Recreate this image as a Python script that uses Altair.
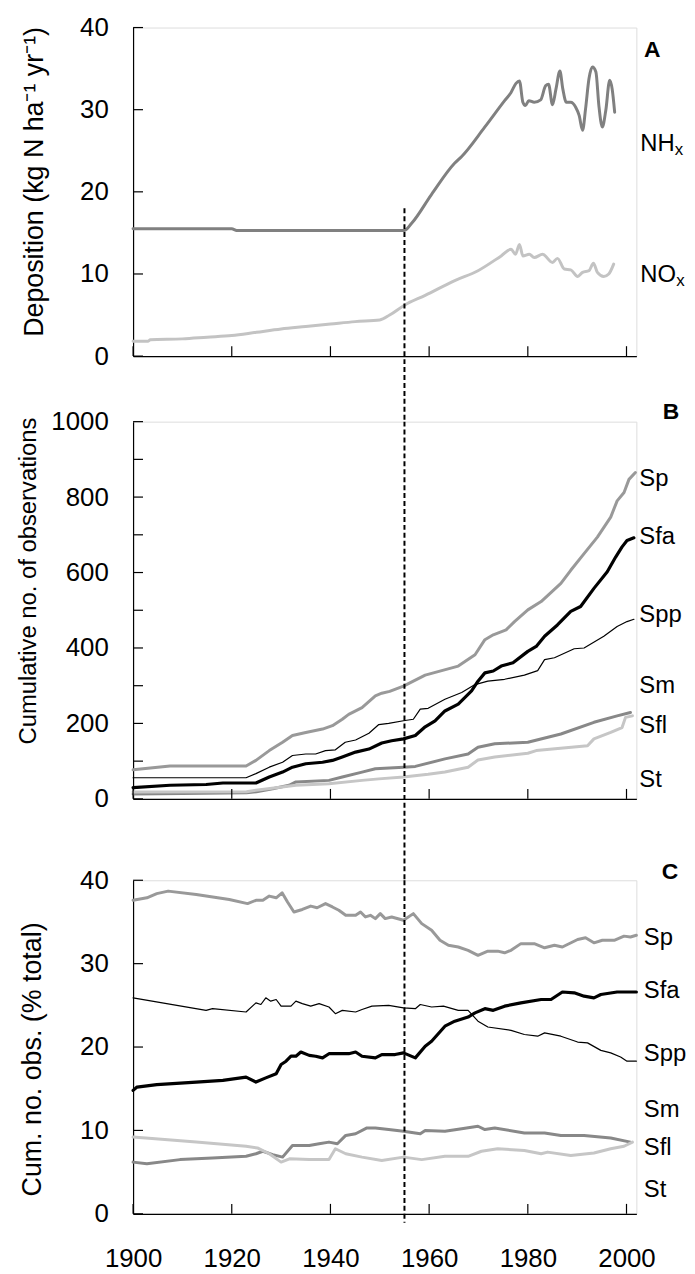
import altair as alt
import pandas as pd

FONT = "Liberation Sans"
X_DOMAIN = [1900, 2002]
X_TICKS = [1900, 1920, 1940, 1960, 1980, 2000]
THRESHOLD_YEAR = [1955]

# ---------------- Panel A: deposition (kg N / ha / yr) ----------------
nhx_year = [1900, 1920, 1921, 1955, 1956.5, 1960.5, 1965.2, 1966.6, 1971.3, 1975.3, 1976.6,
            1977.6, 1978.3, 1979.0, 1979.5, 1980.2, 1981.3, 1982.6, 1983.6, 1984.2, 1985.0,
            1985.7, 1986.5, 1987.1, 1987.8, 1988.7, 1989.7, 1990.4, 1991.1, 1991.7, 1992.4,
            1993.1, 1993.8, 1994.4, 1995.1, 1995.8, 1996.6, 1997.1, 1997.6]
nhx_val = [15.5, 15.5, 15.3, 15.3, 16.2, 19.7, 23.5, 24.3, 27.9, 31.1, 32.1,
           33.2, 33.5, 30.9, 30.5, 31.1, 30.9, 31.2, 32.9, 33.1, 30.6,
           32.5, 34.7, 32.5, 30.9, 30.9, 30.3, 29.3, 27.5, 30.1, 33.8,
           35.2, 34.6, 30.5, 27.9, 29.9, 33.6, 32.5, 29.7]
nox_year = [1900, 1903, 1903.5, 1910, 1915, 1920, 1925, 1930, 1935, 1940, 1945, 1950, 1952,
            1955, 1959.2, 1965.2, 1969.9, 1974.6, 1976.6, 1977.5, 1978.3, 1979.0, 1980.3,
            1981.3, 1983.0, 1985.0, 1986.0, 1987.4, 1988.7, 1990.1, 1991.1, 1992.4, 1993.3,
            1994.1, 1995.4, 1996.4, 1997.4]
nox_val = [1.8, 1.8, 2.0, 2.1, 2.3, 2.5, 2.9, 3.3, 3.6, 3.9, 4.2, 4.4, 5.0,
           6.2, 7.4, 9.2, 10.4, 12.2, 13.0, 12.4, 13.6, 12.2, 12.4,
           12.0, 12.4, 11.4, 11.9, 10.6, 10.5, 9.7, 10.2, 10.4, 11.3,
           10.2, 9.7, 10.0, 11.2]

# ---------------- Panel B: cumulative no. of observations ----------------
b_sp_year = [1900, 1907.5, 1922.9, 1924.9, 1927.6, 1930.3, 1932.3, 1935, 1938.4, 1940.4, 1942.4,
             1943.7, 1946.4, 1949.1, 1950.4, 1952, 1954.8, 1959.2, 1965.9, 1969.3, 1971.3, 1973,
             1975.6, 1977.3, 1980, 1982.7, 1986.7, 1988.7, 1991.4, 1994.1, 1996.8, 1998.1,
             1999.5, 2000.5, 2001.8]
b_sp_val = [77, 87, 87, 102, 128, 150, 168, 176, 185, 194, 211,
            224, 242, 273, 280, 285, 299, 328, 352, 382, 422, 435,
            448, 470, 501, 523, 571, 606, 650, 694, 747, 790,
            812, 847, 865]
b_sfa_year = [1900, 1907.5, 1914.8, 1918.2, 1924.9, 1927.6, 1930.3, 1932.3, 1935, 1938.4, 1940.4,
              1942.4, 1945.1, 1947.8, 1950.4, 1952.4, 1954.8, 1957.2, 1959.2, 1961.2, 1963.2,
              1965.9, 1968.6, 1969.9, 1971.3, 1973, 1974.6, 1977, 1980, 1981.7, 1983.4, 1986,
              1988.7, 1990.7, 1993.4, 1996.1, 1997.8, 1999.1, 2000.1, 2001.5]
b_sfa_val = [30, 36, 38, 42, 42, 58, 71, 84, 93, 97, 102,
             111, 124, 132, 148, 154, 159, 168, 191, 207, 233,
             251, 286, 312, 334, 339, 352, 361, 391, 404, 431, 461,
             497, 510, 558, 602, 641, 668, 685, 692]
b_spp_year = [1900, 1922.9, 1924.9, 1927.6, 1930.3, 1932.3, 1935, 1937, 1939, 1941, 1943, 1945.1,
              1947.8, 1949.8, 1951.8, 1954.8, 1956.8, 1958.2, 1959.8, 1963.2, 1966.6, 1969.3,
              1971.9, 1975.3, 1979.3, 1982, 1983.4, 1985.4, 1989.4, 1991.4, 1995.4, 1998.1,
              2000.1, 2001.5]
b_spp_val = [56, 56, 67, 84, 97, 115, 119, 119, 128, 130, 150, 156,
             174, 197, 200, 207, 211, 238, 240, 264, 282, 303,
             312, 317, 328, 340, 369, 374, 398, 400, 431, 457,
             470, 476]
b_sfl_year = [1900, 1910, 1923, 1925, 1928.3, 1931.6, 1933, 1939.7, 1942.4, 1946.4, 1949.1, 1954.8,
              1957.2, 1963.2, 1967.9, 1969.9, 1973.3, 1980, 1986.7, 1993.4, 1998.1, 2000.8]
b_sfl_val = [13, 14, 16, 19, 27, 36, 45, 49, 58, 71, 80, 84,
             86, 106, 119, 137, 146, 150, 172, 203, 220, 229]
b_st_year = [1900, 1923, 1924.9, 1933, 1939.7, 1946.4, 1949.8, 1954.8, 1959.8, 1963.2, 1967.9,
             1969.9, 1973.3, 1980, 1981.7, 1992.1, 1993.4, 1996.8, 1999.1, 1999.8, 2001.2]
b_st_val = [18, 19, 23, 36, 40, 49, 53, 58, 65, 71, 84,
            103, 111, 121, 128, 141, 159, 176, 189, 216, 220]

# ---------------- Panel C: cumulative no. of observations (% total) ----------------
c_sp_year = [1900, 1902.8, 1904.8, 1907.1, 1912.8, 1919.5, 1923.2, 1924.9, 1926.3, 1927.6, 1929,
             1930.2, 1931.3, 1932.6, 1934.3, 1936, 1937.3, 1939, 1940.4, 1941.7, 1943.1, 1945.1,
             1946.1, 1947.1, 1948.1, 1949.1, 1950.1, 1951.1, 1952.4, 1954.8, 1956.8, 1958.5,
             1960.5, 1962.2, 1963.9, 1965.9, 1967.9, 1969.9, 1971.9, 1973.9, 1975.3, 1976.6,
             1978.6, 1981.3, 1983.4, 1985.4, 1987, 1990.1, 1991.7, 1993.4, 1995.1, 1997.5,
             1999.5, 2000.8, 2002]
c_sp_val = [37.6, 37.9, 38.4, 38.7, 38.3, 37.7, 37.2, 37.6, 37.6, 38.1, 37.9,
            38.5, 37.4, 36.2, 36.5, 36.9, 36.7, 37.2, 36.8, 36.4, 35.8, 35.8,
            36.2, 35.6, 35.8, 35.4, 36.0, 35.4, 35.6, 35.2, 36.0, 34.8,
            34.0, 32.8, 32.2, 32.0, 31.6, 31.0, 31.5, 31.5, 31.3, 31.6,
            32.4, 32.4, 31.9, 32.2, 32.0, 32.9, 33.1, 32.5, 32.8, 32.8,
            33.3, 33.2, 33.4]
c_sfa_year = [1900, 1900.8, 1904.8, 1912.8, 1918.2, 1922.9, 1924.9, 1926.9, 1929, 1930, 1931,
              1932, 1933, 1934, 1935.7, 1937, 1938.4, 1939.7, 1943.7, 1945.1, 1946.4, 1949.1,
              1950.4, 1953.1, 1954.8, 1957.2, 1959.2, 1960.5, 1963.2, 1965.2, 1967.9, 1969.3,
              1971.3, 1973, 1975.3, 1978.6, 1982.7, 1984.7, 1987, 1989.4, 1991.4, 1993.4,
              1994.8, 1998.1, 2002]
c_sfa_val = [14.8, 15.2, 15.5, 15.8, 16.0, 16.4, 15.8, 16.3, 16.8, 17.9, 18.3,
             18.9, 18.9, 19.4, 19.0, 18.9, 18.7, 19.2, 19.2, 19.4, 18.9, 18.7,
             19.1, 19.1, 19.3, 18.7, 20.1, 20.7, 22.5, 23.1, 23.6, 24.1,
             24.6, 24.4, 24.9, 25.3, 25.7, 25.7, 26.6, 26.5, 26.1, 25.9,
             26.3, 26.6, 26.6]
c_spp_year = [1900, 1914.8, 1916.1, 1922.9, 1924.9, 1925.9, 1926.9, 1927.9, 1929, 1930, 1932,
              1933, 1934.3, 1936, 1937.7, 1939.7, 1941, 1942.4, 1945.1, 1946.4, 1948.4, 1951.8,
              1954.8, 1957.2, 1958.2, 1960.5, 1962.9, 1965.9, 1967.9, 1969.9, 1971.9, 1976.6,
              1979.3, 1982, 1983.4, 1986.7, 1990.1, 1992.1, 1994.8, 1996.8, 1998.8, 2000.1, 2002]
c_spp_val = [25.9, 24.4, 24.6, 24.2, 25.3, 25.1, 25.9, 25.5, 25.7, 24.9, 24.9,
             25.5, 25.2, 24.9, 25.2, 24.8, 24.0, 24.4, 24.2, 24.5, 24.9, 25.0,
             24.7, 24.6, 25.1, 24.8, 24.9, 24.4, 24.4, 23.1, 22.4, 22.0,
             21.5, 21.3, 21.7, 21.3, 20.6, 20.5, 19.6, 19.3, 18.8, 18.3, 18.3]
c_sfl_year = [1900, 1902.8, 1909.5, 1916.1, 1922.9, 1924.9, 1926.3, 1928.3, 1930.3, 1932.3, 1935.7,
              1937.7, 1939.7, 1941.4, 1943.1, 1945.1, 1947.4, 1949.1, 1951.8, 1954.8, 1958.2,
              1959.2, 1963.2, 1966.6, 1969.9, 1971.3, 1973.3, 1979.3, 1983.4, 1986.7, 1991.4,
              1996.8, 2000.8]
c_sfl_val = [6.2, 6.0, 6.5, 6.7, 6.9, 7.2, 7.5, 7.1, 6.8, 8.2, 8.2,
             8.4, 8.6, 8.4, 9.4, 9.6, 10.3, 10.3, 10.1, 9.9, 9.6,
             10.0, 9.9, 10.2, 10.5, 10.1, 10.3, 9.7, 9.7, 9.4, 9.4,
             9.1, 8.6]
c_st_year = [1900, 1912.8, 1922.9, 1925.2, 1927.6, 1930, 1931.7, 1935.7, 1939.7, 1941, 1943.1,
             1946.4, 1950.4, 1954.8, 1958.5, 1963.2, 1967.9, 1970.6, 1973.9, 1979.3, 1982.7,
             1984, 1988.7, 1993.4, 1996.8, 1999.5, 2001.2]
c_st_val = [9.2, 8.6, 8.1, 7.9, 7.2, 6.2, 6.6, 6.5, 6.5, 7.8, 7.2,
            6.8, 6.4, 6.8, 6.5, 6.9, 6.9, 7.5, 7.8, 7.6, 7.2,
            7.4, 7.0, 7.3, 7.8, 8.1, 8.6]

# ---------------- labels ----------------
a_label_text = ["NH", "NO"]
a_label_x = [2002.8, 2002.8]
a_label_y = [25.8, 9.9]
a_sub_text = ["x", "x"]
a_sub_x = [2009.8, 2010.1]
a_sub_y = [25.1, 9.2]

species = ["Sp", "Sfa", "Spp", "Sm", "Sfl", "St"]
b_label_x = [2002.6] * 6
b_label_y = [847, 694, 488, 299, 194, 49]
c_label_x = [2003.5] * 6
c_label_y = [33.1, 26.7, 19.2, 12.4, 7.9, 2.9]

panel_letters = ["A", "B", "C"]
letter_x = [2005.2, 2009.0, 2008.8]
letter_y = [37.2, 1026, 41.0]

# ---------------- styling ----------------
W = 507
HA, HB, HC = 331, 380, 336
GAP_AB, GAP_BC = 66, 82

ALL_NAMES = ["NHx", "NOx", "Sp", "Sfa", "Spp", "Sfl", "St"]
ALL_COLORS = ["#808080", "#c3c3c3", "#999999", "#000000", "#000000", "#888888", "#c6c6c6"]
ALL_WIDTHS = [3, 3, 3, 3.2, 1.2, 3, 3]
species_lines = ["Sp", "Sfa", "Spp", "Sfl", "St"]


def long_df(names, years, values):
    rows = []
    for n, ys, vs in zip(names, years, values):
        for yr, v in zip(ys, vs):
            rows.append({"series": n, "year": yr, "value": v})
    return pd.DataFrame(rows)


def make_panel(df, ydom, ylab_vals, ytick_vals, title, title_size,
               title_x, title_y, h, rule_y, rule_y2, labels_df, letter_idx, show_x_labels,
               interp, subs_df=None):
    xs = alt.Scale(domain=X_DOMAIN, nice=False, zero=False)
    ys = alt.Scale(domain=ydom, nice=False, zero=False)
    xaxis = alt.Axis(values=X_TICKS, ticks=False, labels=show_x_labels, grid=False,
                     domainColor="black", domainWidth=1.2, labelFontSize=26,
                     labelPadding=32, labelColor="black", labelFont=FONT,
                     labelFlush=False, format="d", title=None)
    yaxis = alt.Axis(values=ylab_vals, ticks=False, grid=False, domainColor="black",
                     domainWidth=1.2, labelFontSize=26, labelPadding=25, format="d",
                     labelColor="black", labelFont=FONT, title=title,
                     titleFontSize=title_size, titleFontWeight="normal", titleFont=FONT,
                     titleColor="black", titleX=title_x, titleY=title_y,
                     titleBaseline="middle", titleAngle=270, titleAlign="center")
    X = lambda f: alt.X(f, scale=xs, axis=xaxis)
    Y = lambda f: alt.Y(f, scale=ys, axis=yaxis)

    lines = alt.Chart(df).mark_line(interpolate=interp, strokeCap="round",
                                    strokeJoin="round").encode(
        x=X("year:Q"), y=Y("value:Q"),
        color=alt.Color("series:N", scale=alt.Scale(domain=ALL_NAMES, range=ALL_COLORS),
                        legend=None),
        strokeWidth=alt.StrokeWidth("series:N",
                                    scale=alt.Scale(type="ordinal", domain=ALL_NAMES,
                                                    range=ALL_WIDTHS),
                                    legend=None),
    )
    rule_enc = dict(x=X("year:Q"), y2=alt.value(rule_y2))
    if rule_y is None:
        rule_enc["y"] = alt.value(0)
    else:
        rule_enc["y"] = alt.datum(rule_y)
    rule = alt.Chart(pd.DataFrame({"year": THRESHOLD_YEAR})).mark_rule(
        color="black", strokeWidth=2, strokeDash=[5, 3]).encode(**rule_enc)
    xt = alt.Chart(pd.DataFrame({"year": X_TICKS})).mark_rule(
        color="black", strokeWidth=1.2).encode(x=X("year:Q"), y=alt.value(h - 10),
                                               y2=alt.value(h))
    yt = alt.Chart(pd.DataFrame({"v": ytick_vals})).mark_rule(
        color="black", strokeWidth=1.2).encode(y=Y("v:Q"), x=alt.value(0), x2=alt.value(10))
    lab = alt.Chart(labels_df).mark_text(align="left", baseline="middle", fontSize=24,
                                         font=FONT, color="black").encode(
        x=X("lx:Q"), y=Y("ly:Q"), text="t:N")
    let = alt.Chart(pd.DataFrame({"t": [panel_letters[letter_idx]],
                                  "lx": [letter_x[letter_idx]],
                                  "ly": [letter_y[letter_idx]]})).mark_text(
        align="center", baseline="middle", fontSize=23, fontWeight="bold", font=FONT,
        color="black").encode(x=X("lx:Q"), y=Y("ly:Q"), text="t:N")
    layers = [lines, rule, xt, yt, lab, let]
    if subs_df is not None:
        sub = alt.Chart(subs_df).mark_text(align="left", baseline="middle", fontSize=17,
                                           font=FONT, color="black").encode(
            x=X("lx:Q"), y=Y("ly:Q"), text="t:N")
        layers.append(sub)
    return alt.layer(*layers).properties(width=W, height=h)


df_a = long_df(["NHx", "NOx"], [nhx_year, nox_year], [nhx_val, nox_val])
df_b = long_df(species_lines, [b_sp_year, b_sfa_year, b_spp_year, b_sfl_year, b_st_year],
               [b_sp_val, b_sfa_val, b_spp_val, b_sfl_val, b_st_val])
df_c = long_df(species_lines, [c_sp_year, c_sfa_year, c_spp_year, c_sfl_year, c_st_year],
               [c_sp_val, c_sfa_val, c_spp_val, c_sfl_val, c_st_val])

lab_a = pd.DataFrame({"t": a_label_text, "lx": a_label_x, "ly": a_label_y})
sub_a = pd.DataFrame({"t": a_sub_text, "lx": a_sub_x, "ly": a_sub_y})
lab_b = pd.DataFrame({"t": species, "lx": b_label_x, "ly": b_label_y})
lab_c = pd.DataFrame({"t": species, "lx": c_label_x, "ly": c_label_y})

panel_a = make_panel(df_a, [0, 40], [0, 10, 20, 30, 40], [0, 10, 20, 30, 40],
                     "Deposition (kg N ha\u207b\u00b9 yr\u207b\u00b9)", 27, -99, 155, HA,
                     18, HA + GAP_AB, lab_a, 0, False, "monotone", sub_a)
panel_b = make_panel(df_b, [0, 1000], [0, 200, 400, 600, 800, 1000], list(range(0, 1001, 100)),
                     "Cumulative no. of observations", 24, -105, 160, HB,
                     None, HB + GAP_BC, lab_b, 1, False, "linear")
panel_c = make_panel(df_c, [0, 40], [0, 10, 20, 30, 40], [0, 10, 20, 30, 40],
                     "Cum. no. obs. (% total)", 27, -101, 180, HC,
                     None, HC + 9, lab_c, 2, True, "linear")

chart = alt.vconcat(
    panel_a,
    alt.vconcat(panel_b, panel_c, spacing=GAP_BC, bounds="flush"),
    spacing=GAP_AB, bounds="flush",
).properties(
    padding={"left": 8, "top": 1, "right": 0, "bottom": 4}
).configure_view(stroke=None).configure(font=FONT)

chart.save("out.html", embed_options={"renderer": "svg", "actions": False})
